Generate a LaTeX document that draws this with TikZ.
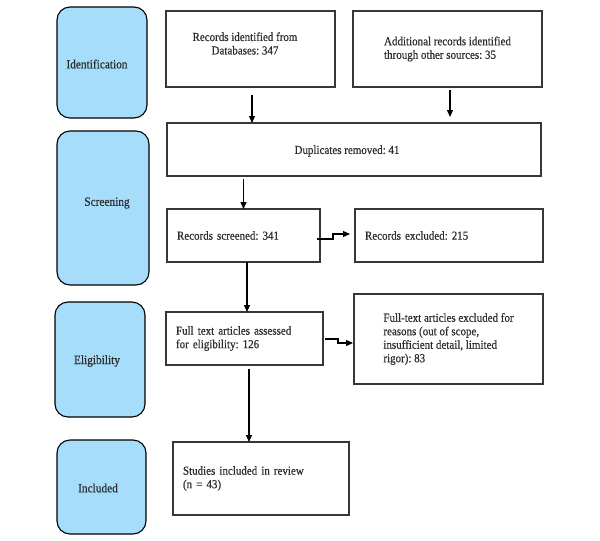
\documentclass[tikz,border=0pt]{standalone}
\usepackage{fontspec}
\setmainfont{Liberation Serif}[FakeStretch=0.9,FakeBold=0.6]
\usetikzlibrary{arrows.meta}
\definecolor{phasefill}{RGB}{165,221,251}
\definecolor{edgecol}{RGB}{55,55,55}
\definecolor{ink}{RGB}{45,45,45}
\frenchspacing
\begin{document}
\begin{tikzpicture}[
  x=1pt, y=-1pt,
  txt/.style={font=\fontsize{12.2}{13.5}\selectfont, text=ink},
  box/.style={draw=edgecol, line width=1.2pt, rectangle, inner sep=0pt, outer sep=0pt, txt},
  cbox/.style={box, align=left},
  lbox/.style={box, align=left, inner xsep=10pt},
  phase/.style={draw=black, line width=1.1pt, fill=phasefill, rounded corners=13pt, inner sep=0pt, outer sep=0pt},
  phasetxt/.style={font=\fontsize{12.6}{13}\selectfont, text=ink},
  arr/.style={draw=black, line width=1.2pt, -{Triangle[length=7pt,width=6pt]}}
]
\useasboundingbox (0,0) rectangle (600,541);

% phase boxes
\node[phase, minimum width=90pt, minimum height=111pt,
      label={[phasetxt,xshift=-5pt,yshift=-1.5pt]center:Identification}] (id) at (102,62.5) {};
\node[phase, minimum width=92pt, minimum height=154pt,
      label={[phasetxt,xshift=4pt,yshift=5pt]center:Screening}] (sc) at (103,208) {};
\node[phase, minimum width=90pt, minimum height=115pt,
      label={[phasetxt,xshift=-3pt,yshift=-1.5pt]center:Eligibility}] (el) at (100,359.5) {};
\node[phase, minimum width=89pt, minimum height=94pt,
      label={[phasetxt,xshift=-3.5pt,yshift=-1pt]center:Included}] (in) at (101.5,487) {};

% flow boxes
\node[box, minimum width=169pt, minimum height=76pt,
      label={[txt,align=center,xshift=-5.5pt,yshift=5.5pt]center:Records identified from\\Databases: 347}] (A) at (250.5,49) {};
\node[cbox, minimum width=189pt, minimum height=76pt] (B) at (447.5,49) {Additional records identified\\through other sources: 35};
\node[box, minimum width=374pt, minimum height=53pt,
      label={[txt,xshift=-7pt,yshift=-1.5pt]center:Duplicates removed: 41}] (dup) at (354,149.5) {};
\node[lbox, text width=133pt, minimum height=53pt] (scr) at (243.5,235.5) {Records screened: 341};
\node[lbox, text width=168pt, minimum height=53pt] (exc) at (449,235.5) {Records excluded: 215};
\node[lbox, text width=137pt, minimum height=53pt] (ft) at (244.5,338.5) {Full text articles assessed\\for eligibility: 126};
\node[cbox, minimum width=189pt, minimum height=90pt] (fte) at (448.5,339) {Full-text articles excluded for\\reasons (out of scope,\\insufficient detail, limited\\rigor): 83};
\node[lbox, text width=156pt, minimum height=73pt] (st) at (261,478.5) {Studies included in review\\(n = 43)};

% connectors
\draw[arr] ([xshift=1.5pt,yshift=-8pt]A.south) -- ([xshift=1.5pt]A.south |- dup.north);
\draw[arr] ([xshift=2.5pt,yshift=-3pt]B.south) -- ([xshift=2.5pt,yshift=6pt]B.south |- dup.north);
\draw[arr] ([yshift=-3pt]dup.south -| scr.north) -- (scr.north);
\draw[arr] ([xshift=3.5pt]scr.south) -- ([xshift=3.5pt]scr.south |- ft.north);
\draw[arr] ([xshift=4.5pt,yshift=-4pt]ft.south) -- ([xshift=4.5pt]ft.south |- st.north);

\coordinate (s1) at ([xshift=-3pt,yshift=-3.5pt]scr.east);
\coordinate (t1) at ([xshift=-5pt,yshift=1.5pt]exc.west);
\draw[arr] (s1) -- ++(16pt,0) |- (t1);

\coordinate (s2) at ([xshift=2pt,yshift=-0.5pt]ft.east);
\coordinate (t2) at ([xshift=-1pt,yshift=-4pt]fte.west);
\draw[arr] (s2) -- ++(13pt,0) |- (t2);
\end{tikzpicture}
\end{document}
